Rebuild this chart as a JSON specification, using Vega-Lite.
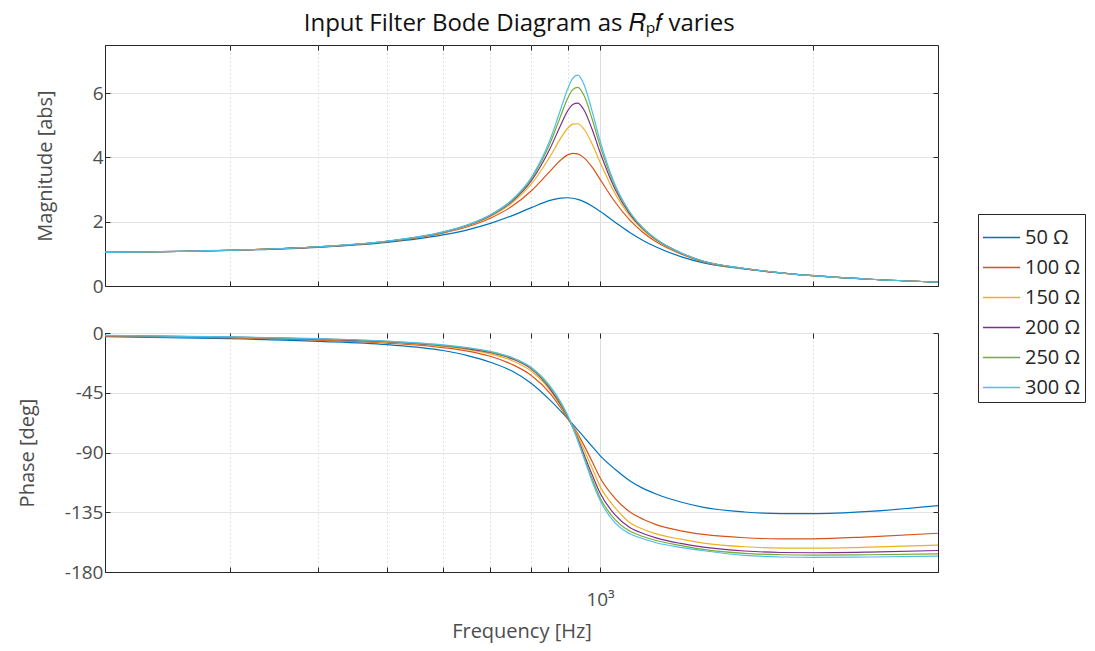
{
  "$schema": "https://vega.github.io/schema/vega-lite/v6.json",
  "background": "white",
  "padding": {"left": 16, "top": 12, "right": 5, "bottom": 5},
  "title": {"text": "Input Filter Bode Diagram as 𝑅ₚ𝑓 varies", "fontSize": 24, "font": "Open Sans", "fontWeight": "normal", "color": "#111111", "anchor": "middle", "offset": 8, "dx": -32},
  "config": {
    "font": "Open Sans",
    "view": {"stroke": "#262626", "strokeWidth": 1},
    "axis": {"labelFontSize": 19, "titleFontSize": 20, "labelColor": "#4d4d4d", "titleColor": "#4d4d4d", "titleFontWeight": "normal", "domainColor": "#262626", "tickColor": "#262626", "gridColor": "#e3e3e3", "labelFont": "Open Sans", "titleFont": "Open Sans"}
  },
  "data": {"values": [
    {"f":200,"R":"50 Ω","m":1.045,"p":-2.7},{"f":300,"R":"50 Ω","m":1.107,"p":-4.3},{"f":400,"R":"50 Ω","m":1.205,"p":-6.3},{"f":500,"R":"50 Ω","m":1.356,"p":-8.8},{"f":600,"R":"50 Ω","m":1.589,"p":-13.2},{"f":650,"R":"50 Ω","m":1.749,"p":-17},{"f":700,"R":"50 Ω","m":1.947,"p":-22},{"f":750,"R":"50 Ω","m":2.183,"p":-28.5},{"f":800,"R":"50 Ω","m":2.44,"p":-38},{"f":850,"R":"50 Ω","m":2.663,"p":-50.6},{"f":880,"R":"50 Ω","m":2.737,"p":-58.9},{"f":900,"R":"50 Ω","m":2.746,"p":-64.5},{"f":915,"R":"50 Ω","m":2.73,"p":-68.7},{"f":930,"R":"50 Ω","m":2.694,"p":-73},{"f":950,"R":"50 Ω","m":2.617,"p":-78.6},{"f":975,"R":"50 Ω","m":2.483,"p":-85.6},{"f":1000,"R":"50 Ω","m":2.323,"p":-92.3},{"f":1050,"R":"50 Ω","m":1.983,"p":-102.6},{"f":1100,"R":"50 Ω","m":1.674,"p":-111},{"f":1150,"R":"50 Ω","m":1.418,"p":-117},{"f":1200,"R":"50 Ω","m":1.212,"p":-121.3},{"f":1300,"R":"50 Ω","m":0.915,"p":-127.3},{"f":1400,"R":"50 Ω","m":0.72,"p":-131.3},{"f":1600,"R":"50 Ω","m":0.53,"p":-134.8},{"f":1800,"R":"50 Ω","m":0.405,"p":-136},{"f":2000,"R":"50 Ω","m":0.32,"p":-136.1},{"f":2400,"R":"50 Ω","m":0.21,"p":-134.4},{"f":3000,"R":"50 Ω","m":0.12,"p":-130},
    {"f":200,"R":"100 Ω","m":1.047,"p":-2.3},{"f":300,"R":"100 Ω","m":1.111,"p":-3.7},{"f":400,"R":"100 Ω","m":1.215,"p":-5.4},{"f":500,"R":"100 Ω","m":1.38,"p":-7.6},{"f":600,"R":"100 Ω","m":1.647,"p":-11},{"f":650,"R":"100 Ω","m":1.845,"p":-13.6},{"f":700,"R":"100 Ω","m":2.11,"p":-17.5},{"f":750,"R":"100 Ω","m":2.472,"p":-23.5},{"f":800,"R":"100 Ω","m":2.964,"p":-32},{"f":850,"R":"100 Ω","m":3.574,"p":-45.5},{"f":880,"R":"100 Ω","m":3.92,"p":-56.5},{"f":900,"R":"100 Ω","m":4.08,"p":-64.3},{"f":915,"R":"100 Ω","m":4.13,"p":-70},{"f":930,"R":"100 Ω","m":4.11,"p":-76},{"f":950,"R":"100 Ω","m":3.98,"p":-85},{"f":975,"R":"100 Ω","m":3.69,"p":-97},{"f":1000,"R":"100 Ω","m":3.32,"p":-109},{"f":1050,"R":"100 Ω","m":2.614,"p":-124.5},{"f":1100,"R":"100 Ω","m":2.064,"p":-134.5},{"f":1150,"R":"100 Ω","m":1.667,"p":-140.3},{"f":1200,"R":"100 Ω","m":1.378,"p":-144.3},{"f":1300,"R":"100 Ω","m":0.999,"p":-149},{"f":1400,"R":"100 Ω","m":0.75,"p":-151.7},{"f":1600,"R":"100 Ω","m":0.538,"p":-154.2},{"f":1800,"R":"100 Ω","m":0.41,"p":-155},{"f":2000,"R":"100 Ω","m":0.32,"p":-155},{"f":2400,"R":"100 Ω","m":0.21,"p":-153.5},{"f":3000,"R":"100 Ω","m":0.12,"p":-150.8},
    {"f":200,"R":"150 Ω","m":1.047,"p":-2.1},{"f":300,"R":"150 Ω","m":1.113,"p":-3.4},{"f":400,"R":"150 Ω","m":1.219,"p":-4.9},{"f":500,"R":"150 Ω","m":1.388,"p":-7},{"f":600,"R":"150 Ω","m":1.666,"p":-10.2},{"f":650,"R":"150 Ω","m":1.877,"p":-12.5},{"f":700,"R":"150 Ω","m":2.165,"p":-15.7},{"f":750,"R":"150 Ω","m":2.577,"p":-20.6},{"f":800,"R":"150 Ω","m":3.178,"p":-28.8},{"f":850,"R":"150 Ω","m":4.03,"p":-43},{"f":880,"R":"150 Ω","m":4.6,"p":-55},{"f":900,"R":"150 Ω","m":4.91,"p":-63.5},{"f":915,"R":"150 Ω","m":5.04,"p":-70.3},{"f":930,"R":"150 Ω","m":5.05,"p":-77.5},{"f":950,"R":"150 Ω","m":4.87,"p":-88.5},{"f":975,"R":"150 Ω","m":4.41,"p":-102},{"f":1000,"R":"150 Ω","m":3.85,"p":-115.5},{"f":1050,"R":"150 Ω","m":2.876,"p":-131.5},{"f":1100,"R":"150 Ω","m":2.199,"p":-142.5},{"f":1150,"R":"150 Ω","m":1.742,"p":-147.8},{"f":1200,"R":"150 Ω","m":1.424,"p":-151.3},{"f":1300,"R":"150 Ω","m":1.019,"p":-155.3},{"f":1400,"R":"150 Ω","m":0.76,"p":-158.2},{"f":1600,"R":"150 Ω","m":0.541,"p":-161},{"f":1800,"R":"150 Ω","m":0.41,"p":-162},{"f":2000,"R":"150 Ω","m":0.32,"p":-162},{"f":2400,"R":"150 Ω","m":0.21,"p":-161.3},{"f":3000,"R":"150 Ω","m":0.12,"p":-159.7},
    {"f":200,"R":"200 Ω","m":1.047,"p":-2},{"f":300,"R":"200 Ω","m":1.113,"p":-3.1},{"f":400,"R":"200 Ω","m":1.22,"p":-4.6},{"f":500,"R":"200 Ω","m":1.391,"p":-6.6},{"f":600,"R":"200 Ω","m":1.674,"p":-9.6},{"f":650,"R":"200 Ω","m":1.89,"p":-11.8},{"f":700,"R":"200 Ω","m":2.19,"p":-14.7},{"f":750,"R":"200 Ω","m":2.624,"p":-19.3},{"f":800,"R":"200 Ω","m":3.281,"p":-27.2},{"f":850,"R":"200 Ω","m":4.28,"p":-42},{"f":880,"R":"200 Ω","m":5.01,"p":-54},{"f":900,"R":"200 Ω","m":5.45,"p":-63},{"f":915,"R":"200 Ω","m":5.65,"p":-71},{"f":930,"R":"200 Ω","m":5.69,"p":-79.5},{"f":950,"R":"200 Ω","m":5.46,"p":-92},{"f":975,"R":"200 Ω","m":4.86,"p":-107},{"f":1000,"R":"200 Ω","m":4.16,"p":-120.5},{"f":1050,"R":"200 Ω","m":3.012,"p":-137},{"f":1100,"R":"200 Ω","m":2.263,"p":-146.3},{"f":1150,"R":"200 Ω","m":1.777,"p":-151},{"f":1200,"R":"200 Ω","m":1.444,"p":-154.3},{"f":1300,"R":"200 Ω","m":1.028,"p":-158.5},{"f":1400,"R":"200 Ω","m":0.765,"p":-161.3},{"f":1600,"R":"200 Ω","m":0.543,"p":-164.2},{"f":1800,"R":"200 Ω","m":0.41,"p":-165.3},{"f":2000,"R":"200 Ω","m":0.32,"p":-165.5},{"f":2400,"R":"200 Ω","m":0.21,"p":-165},{"f":3000,"R":"200 Ω","m":0.12,"p":-163.8},
    {"f":200,"R":"250 Ω","m":1.047,"p":-1.9},{"f":300,"R":"250 Ω","m":1.113,"p":-3},{"f":400,"R":"250 Ω","m":1.221,"p":-4.45},{"f":500,"R":"250 Ω","m":1.393,"p":-6.35},{"f":600,"R":"250 Ω","m":1.679,"p":-9.25},{"f":650,"R":"250 Ω","m":1.898,"p":-11.3},{"f":700,"R":"250 Ω","m":2.204,"p":-14.3},{"f":750,"R":"250 Ω","m":2.652,"p":-18.7},{"f":800,"R":"250 Ω","m":3.343,"p":-26.5},{"f":850,"R":"250 Ω","m":4.44,"p":-41},{"f":880,"R":"250 Ω","m":5.3,"p":-53},{"f":900,"R":"250 Ω","m":5.84,"p":-62.5},{"f":915,"R":"250 Ω","m":6.11,"p":-71},{"f":930,"R":"250 Ω","m":6.18,"p":-80.5},{"f":950,"R":"250 Ω","m":5.91,"p":-94},{"f":975,"R":"250 Ω","m":5.18,"p":-110},{"f":1000,"R":"250 Ω","m":4.37,"p":-124},{"f":1050,"R":"250 Ω","m":3.095,"p":-140.5},{"f":1100,"R":"250 Ω","m":2.302,"p":-149},{"f":1150,"R":"250 Ω","m":1.797,"p":-153.3},{"f":1200,"R":"250 Ω","m":1.456,"p":-156.3},{"f":1300,"R":"250 Ω","m":1.033,"p":-160},{"f":1400,"R":"250 Ω","m":0.77,"p":-163},{"f":1600,"R":"250 Ω","m":0.545,"p":-166},{"f":1800,"R":"250 Ω","m":0.41,"p":-167},{"f":2000,"R":"250 Ω","m":0.32,"p":-167.3},{"f":2400,"R":"250 Ω","m":0.21,"p":-167},{"f":3000,"R":"250 Ω","m":0.12,"p":-166.3},
    {"f":200,"R":"300 Ω","m":1.048,"p":-1.8},{"f":300,"R":"300 Ω","m":1.114,"p":-2.9},{"f":400,"R":"300 Ω","m":1.221,"p":-4.3},{"f":500,"R":"300 Ω","m":1.394,"p":-6.1},{"f":600,"R":"300 Ω","m":1.682,"p":-8.9},{"f":650,"R":"300 Ω","m":1.903,"p":-11},{"f":700,"R":"300 Ω","m":2.213,"p":-13.8},{"f":750,"R":"300 Ω","m":2.67,"p":-18.3},{"f":800,"R":"300 Ω","m":3.384,"p":-26},{"f":850,"R":"300 Ω","m":4.55,"p":-40},{"f":880,"R":"300 Ω","m":5.51,"p":-52},{"f":900,"R":"300 Ω","m":6.13,"p":-62},{"f":915,"R":"300 Ω","m":6.46,"p":-71},{"f":930,"R":"300 Ω","m":6.56,"p":-81},{"f":950,"R":"300 Ω","m":6.25,"p":-95},{"f":975,"R":"300 Ω","m":5.42,"p":-112},{"f":1000,"R":"300 Ω","m":4.52,"p":-126},{"f":1050,"R":"300 Ω","m":3.15,"p":-143},{"f":1100,"R":"300 Ω","m":2.327,"p":-151},{"f":1150,"R":"300 Ω","m":1.81,"p":-155},{"f":1200,"R":"300 Ω","m":1.464,"p":-158},{"f":1300,"R":"300 Ω","m":1.036,"p":-161.5},{"f":1400,"R":"300 Ω","m":0.77,"p":-164},{"f":1600,"R":"300 Ω","m":0.545,"p":-167.5},{"f":1800,"R":"300 Ω","m":0.41,"p":-168.7},{"f":2000,"R":"300 Ω","m":0.32,"p":-169},{"f":2400,"R":"300 Ω","m":0.21,"p":-168.7},{"f":3000,"R":"300 Ω","m":0.12,"p":-168}
  ]},
  "spacing": 26,
  "vconcat": [
    {
      "width": 833, "height": 241,
      "layer": [
        {
          "mark": {"type": "line", "strokeWidth": 1.2, "interpolate": "monotone", "clip": true},
          "encoding": {
            "x": {"field": "f", "type": "quantitative", "scale": {"type": "log", "domain": [200, 3000], "nice": false},
              "axis": {"values": [300,400,500,600,700,800,900,1000,2000], "labels": false, "title": null, "tickSize": -5, "grid": true,
                "gridDash": {"condition": {"test": "datum.value == 1000", "value": []}, "value": [1, 3]},
                "gridColor": {"condition": {"test": "datum.value == 1000", "value": "#dcdcdc"}, "value": "#c4c4c4"}}},
            "y": {"field": "m", "type": "quantitative", "scale": {"domain": [0, 7.5], "nice": false},
              "axis": {"values": [0,2,4,6], "title": "Magnitude [abs]", "tickSize": -5, "labelPadding": 7, "titlePadding": 37, "grid": true}},
            "color": {"field": "R", "type": "nominal",
              "scale": {"domain": ["50 Ω","100 Ω","150 Ω","200 Ω","250 Ω","300 Ω"], "range": ["#0072BD","#D95319","#EDB120","#7E2F8E","#77AC30","#4DBEEE"]},
              "legend": {"title": null, "orient": "none", "legendX": 873, "legendY": 169, "symbolType": "stroke", "symbolSize": 1369, "symbolStrokeWidth": 1.3, "labelFontSize": 20, "labelColor": "#262626", "labelFont": "Open Sans", "strokeColor": "#262626", "fillColor": "white", "padding": 4, "rowPadding": -10, "labelOffset": 4}}
          }
        },
        {
          "mark": {"type": "line", "opacity": 0},
          "encoding": {
            "x": {"field": "f", "type": "quantitative", "axis": {"orient": "top", "values": [300,400,500,600,700,800,900,1000,2000], "labels": false, "title": null, "tickSize": -5, "grid": false, "domain": false}},
            "y": {"field": "m", "type": "quantitative", "axis": {"orient": "right", "values": [0,2,4,6], "labels": false, "title": null, "tickSize": -5, "grid": false, "domain": false}},
            "detail": {"field": "R"}
          }
        }
      ],
      "resolve": {"axis": {"x": "independent", "y": "independent"}}
    },
    {
      "width": 833, "height": 239,
      "layer": [
        {
          "mark": {"type": "line", "strokeWidth": 1.2, "interpolate": "monotone", "clip": true},
          "encoding": {
            "x": {"field": "f", "type": "quantitative", "scale": {"type": "log", "domain": [200, 3000], "nice": false},
              "axis": {"values": [300,400,500,600,700,800,900,1000,2000], "labelExpr": "datum.value == 1000 ? '10³' : ''", "title": "Frequency [Hz]", "tickSize": -5, "labelPadding": 23, "titlePadding": 12, "grid": true,
                "gridDash": {"condition": {"test": "datum.value == 1000", "value": []}, "value": [1, 3]},
                "gridColor": {"condition": {"test": "datum.value == 1000", "value": "#dcdcdc"}, "value": "#c4c4c4"}}},
            "y": {"field": "p", "type": "quantitative", "scale": {"domain": [-180, 0], "nice": false},
              "axis": {"values": [-180,-135,-90,-45,0], "labelExpr": "toString(datum.value)", "title": "Phase [deg]", "tickSize": -5, "labelPadding": 7, "titlePadding": 27, "grid": true}},
            "color": {"field": "R", "type": "nominal", "legend": null}
          }
        },
        {
          "mark": {"type": "line", "opacity": 0},
          "encoding": {
            "x": {"field": "f", "type": "quantitative", "axis": {"orient": "top", "values": [300,400,500,600,700,800,900,1000,2000], "labels": false, "title": null, "tickSize": -5, "grid": false, "domain": false}},
            "y": {"field": "p", "type": "quantitative", "axis": {"orient": "right", "values": [-180,-135,-90,-45,0], "labels": false, "title": null, "tickSize": -5, "grid": false, "domain": false}},
            "detail": {"field": "R"}
          }
        }
      ],
      "resolve": {"axis": {"x": "independent", "y": "independent"}}
    }
  ]
}
